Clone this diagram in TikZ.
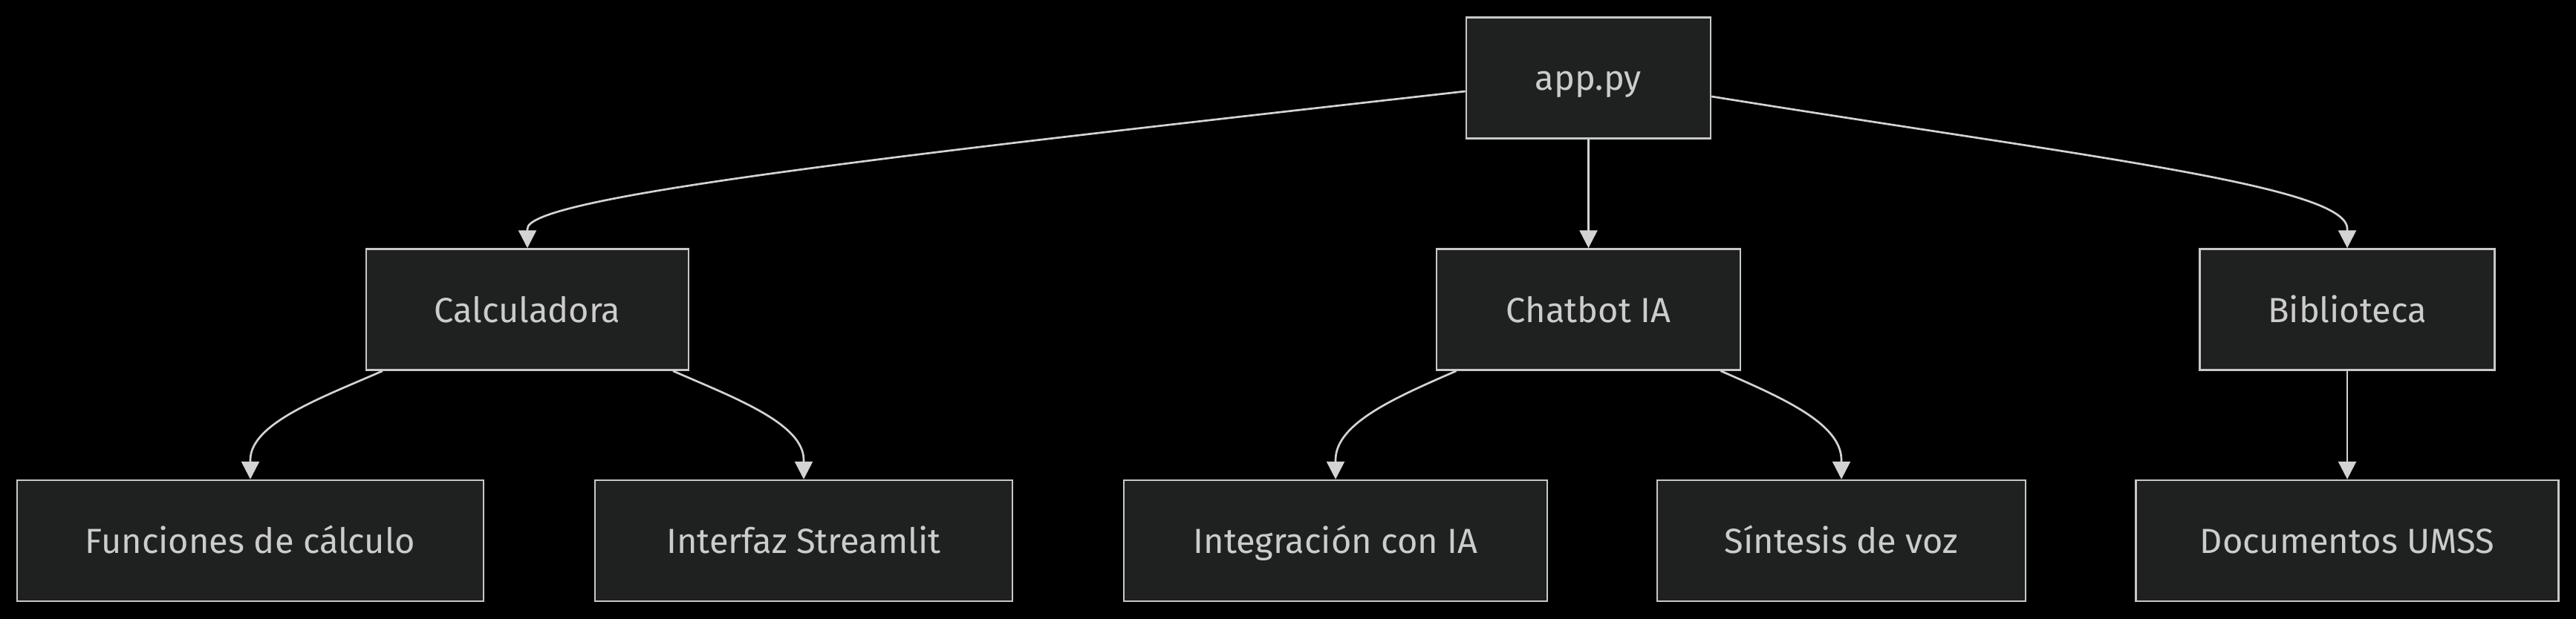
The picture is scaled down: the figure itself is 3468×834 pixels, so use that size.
\documentclass[tikz,border=0pt]{standalone}
\usepackage{fontspec}
\setmainfont{Fira Sans}
\usetikzlibrary{arrows.meta,calc}
\definecolor{boxfill}{HTML}{1F2020}
\definecolor{boxline}{HTML}{C8C8C8}
\definecolor{txt}{HTML}{CCCCCC}
\definecolor{edgec}{HTML}{D3D3D3}
\begin{document}
\begin{tikzpicture}[x=1pt,y=-1pt,
  box/.style={draw=boxline,fill=boxfill,line width=2.5pt,minimum height=163pt,inner sep=0pt,
    text=txt,font=\fontsize{47}{56}\selectfont,text height=34pt,text depth=0pt},
  edgeline/.style={draw=edgec,line width=2.7pt},
  tip/.style={-{Triangle[width=24pt,length=24pt]}}
]
\fill[black] (0,0) rectangle (3468,834);
\useasboundingbox (0,0) rectangle (3468,834);

\node[box,minimum width=329pt] (app) at (2138.5,105) {app.py};
\node[box,minimum width=434pt] (calc) at (710,417) {Calculadora};
\node[box,minimum width=409pt] (chat) at (2138.5,417) {Chatbot IA};
\node[box,minimum width=397pt] (bib) at (3160,417) {Biblioteca};
\node[box,minimum width=628pt] (fun) at (337,728.5) {Funciones de cálculo};
\node[box,minimum width=562pt] (inter) at (1082,728.5) {Interfaz Streamlit};
\node[box,minimum width=570pt] (integ) at (1798,728.5) {Integración con IA};
\node[box,minimum width=496pt] (sint) at (2479,728.5) {Síntesis de voz};
\node[box,minimum width=569pt] (doc) at (3160,728.5) {Documentos UMSS};

% top level
\draw[edgeline,tip] ($(app.west)+(0,18)$) .. controls (1200,210) and (710,265) .. ($(calc.north)+(0,-26)$) -- (calc.north);
\draw[edgeline,tip] (app.south) -- (chat.north);
\draw[edgeline,tip] ($(app.east)+(0,25)$) .. controls (2800,210) and (3160,250) .. ($(bib.north)+(0,-26)$) -- (bib.north);

% second level
\draw[edgeline,tip] ($(calc.south)+(-195,0)$) .. controls (435,535) and (337,570) .. ($(fun.north)+(0,-26)$) -- (fun.north);
\draw[edgeline,tip] ($(calc.south)+(196,0)$) .. controls (986,535) and (1082,570) .. ($(inter.north)+(0,-26)$) -- (inter.north);
\draw[edgeline,tip] ($(chat.south)+(-178,0)$) .. controls (1880,535) and (1798,570) .. ($(integ.north)+(0,-26)$) -- (integ.north);
\draw[edgeline,tip] ($(chat.south)+(178,0)$) .. controls (2397,535) and (2479,570) .. ($(sint.north)+(0,-26)$) -- (sint.north);
\draw[edgeline,tip] (bib.south) -- (doc.north);
\end{tikzpicture}
\end{document}
